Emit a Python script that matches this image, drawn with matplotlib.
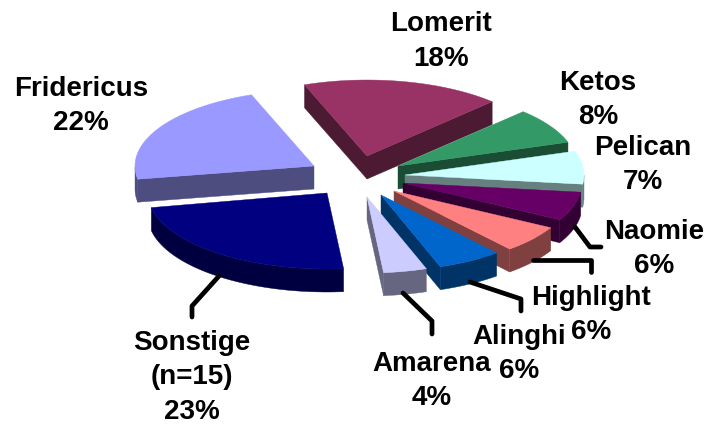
import numpy as np
import matplotlib
matplotlib.use('Agg')
import matplotlib.pyplot as plt

names = ['Fridericus', 'Lomerit', 'Ketos', 'Pelican', 'Naomie', 'Highlight', 'Alinghi', 'Amarena', 'Sonstige\n(n=15)']
values = [22.1, 18.0, 7.6, 7.0, 6.1, 5.8, 5.8, 3.9, 23.4]

top_colors = ['#9999FF', '#993366', '#339966', '#CCFFFF', '#660066', '#FF8080', '#0066CC', '#CCCCFF', '#000080']
side_colors = ['#4D4D80', '#4D1A33', '#1A4D33', '#668080', '#330033', '#804040', '#003366', '#666680', '#000040']

# where each exploded slice has its tip, in pixels
apex_x = [314, 367, 398, 405, 403, 394, 381, 367, 327]
apex_y = [167, 157, 167, 176, 184, 192, 196, 198, 194]
label_x = [81, 441, 598, 643, 654, 591, 519, 432, 192]
label_y = [89, 24, 83, 148, 232, 298, 337, 364, 343]

leaders = [
    [(575, 228), (590, 248), (601, 248)],
    [(533, 261), (591, 261), (591, 273)],
    [(470, 283), (521, 300), (521, 312)],
    [(403, 294), (432, 322), (432, 335)],
    [(219, 277), (192, 307), (192, 318)],
]

rx = 179
ry = 76
depth = 23
line_gap = 34.5
start_angle = 190
draw_order = [1, 0, 2, 3, 4, 5, 6, 7, 8]


def ellipse_points(x0, y0, a1, a2):
    t = np.radians(np.linspace(a1, a2, 80))
    return x0 + rx * np.cos(t), y0 - ry * np.sin(t)


def wall(ax, xs, ys, color):
    px = np.concatenate([xs, xs[::-1]])
    py = np.concatenate([ys, ys[::-1] + depth])
    ax.fill(px, py, color=color, lw=0.3)


plt.rcParams['font.family'] = ['Liberation Sans', 'DejaVu Sans']
fig = plt.figure(figsize=(7.07, 4.27), dpi=100)
ax = fig.add_axes([0, 0, 1, 1])
ax.set_xlim(0, 707)
ax.set_ylim(427, 0)
ax.axis('off')

ends = start_angle - np.cumsum(values) * 3.6
starts = np.concatenate([[start_angle], ends[:-1]])

for i in draw_order:
    x0, y0 = apex_x[i], apex_y[i]
    a1, a2 = starts[i], ends[i]
    xs, ys = ellipse_points(x0, y0, a1, a2)

    # only the faces turned towards the viewer
    if np.cos(np.radians(a1)) < 0:
        wall(ax, np.array([x0, xs[0]]), np.array([y0, ys[0]]), side_colors[i])
    if np.cos(np.radians(a2)) > 0:
        wall(ax, np.array([x0, xs[-1]]), np.array([y0, ys[-1]]), side_colors[i])
    low = ys >= y0
    if low.any():
        wall(ax, xs[low], ys[low], side_colors[i])

    ax.fill(np.concatenate([[x0], xs]), np.concatenate([[y0], ys]), color=top_colors[i], lw=0.3)

for line in leaders:
    ax.plot([p[0] for p in line], [p[1] for p in line], color='black', lw=3.4, solid_capstyle='round',
            solid_joinstyle='round', zorder=3)

for i in range(len(names)):
    # separate text per line, the percent of Highlight sits right next to Alinghi
    lines = names[i].split('\n') + ['%d%%' % round(values[i])]
    for k in range(len(lines)):
        ax.text(label_x[i], label_y[i] + k * line_gap, lines[k], ha='center', va='center',
                fontsize=20, fontweight='bold', color='black', zorder=4)

fig.savefig('out.png', dpi=100)
